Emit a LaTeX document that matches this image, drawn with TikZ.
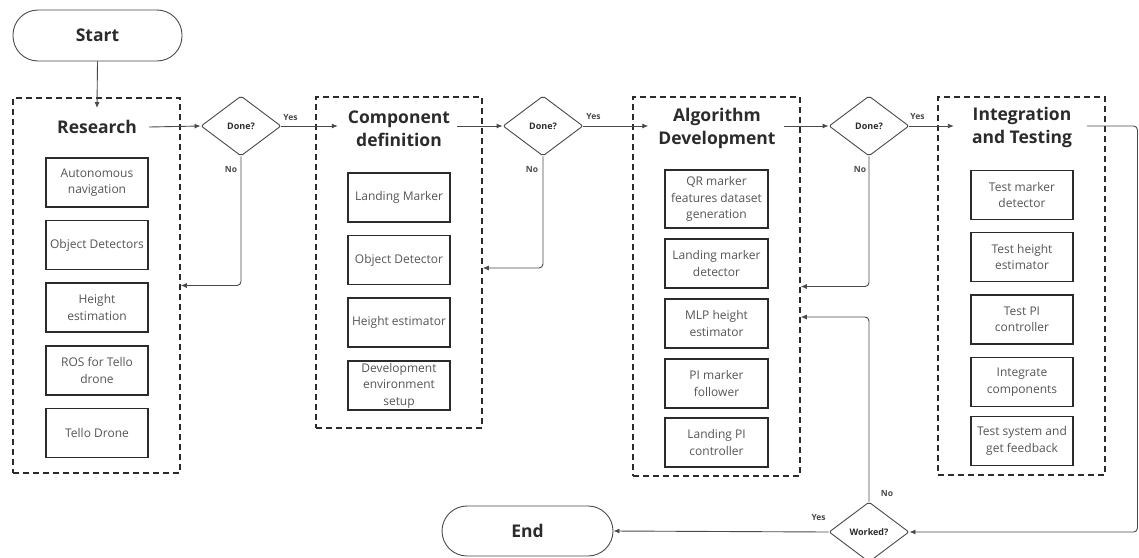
\documentclass[tikz,border=0pt]{standalone}
\usepackage{fontspec}
\setmainfont{Open Sans}
\usetikzlibrary{shapes.geometric,arrows.meta}
\definecolor{ink}{HTML}{2B2B2B}
\definecolor{wire}{HTML}{4A4A4A}
\definecolor{itemtext}{HTML}{555555}
\begin{document}
\begin{tikzpicture}[x=1pt,y=-1pt,
  terminal/.style={draw=wire, line width=0.9pt, rounded corners=25pt,
    minimum width=169pt, minimum height=51pt,
    font=\fontsize{17.5}{21}\selectfont\bfseries, text=ink},
  group/.style={draw=ink, line width=1.5pt, dash pattern=on 6pt off 4pt},
  title/.style={font=\fontsize{17.5}{23}\selectfont\bfseries, text=ink,
    align=center, inner sep=0pt},
  item/.style={draw=ink, line width=1.5pt, minimum width=102pt,
    minimum height=49pt, align=center, inner sep=1pt,
    font=\fontsize{12}{16.5}\selectfont, text=itemtext},
  decision/.style={diamond, draw=wire, line width=0.9pt, minimum width=80pt,
    minimum height=60pt, inner sep=0pt, rounded corners=2pt,
    font=\fontsize{9}{10}\selectfont\bfseries, text=ink},
  flow/.style={draw=wire, line width=0.9pt, rounded corners=4pt,
    -{Latex[length=6pt,width=5pt]}},
  lbl/.style={font=\fontsize{8.5}{10}\selectfont\bfseries, text=wire,
    inner sep=0pt}]
\useasboundingbox (0,0) rectangle (1139,557);

% terminals
\node[terminal] (start) at (97.5,35.5) {Start};
\node[terminal, minimum width=171pt, minimum height=50pt] (end) at (527.5,531) {End};

% phase frames
\node[group, minimum width=167pt, minimum height=375pt] (gR) at (96.5,285.5) {};
\node[group, minimum width=166pt, minimum height=331pt] (gC) at (399,262.5) {};
\node[group, minimum width=167pt, minimum height=379pt] (gA) at (716.5,286.5) {};
\node[group, minimum width=167pt, minimum height=378pt] (gI) at (1021.5,286) {};

% phase titles
\node[title] (tR) at (97,127) {Research};
\node[title] (tC) at (399,128.5) {Component\\definition};
\node[title] (tA) at (717,128.5) {Algorithm\\Development};
\node[title] (tI) at (1022,127.5) {Integration\\and Testing};

% research tasks
\node[item] (r1) at (97,182.5) {Autonomous\\navigation};
\node[item] (r2) at (97,245) {Object Detectors};
\node[item] (r3) at (97,307.5) {Height\\estimation};
\node[item] (r4) at (97,370.5) {ROS for Tello\\drone};
\node[item] (r5) at (97,433) {Tello Drone};

% component tasks
\node[item] (c1) at (399,197.5) {Landing Marker};
\node[item] (c2) at (399,260) {Object Detector};
\node[item] (c3) at (399,322.5) {Height estimator};
\node[item] (c4) at (399,385.5) {Development\\environment\\setup};

% algorithm tasks
\node[item, minimum width=103pt, minimum height=58pt] (a1) at (716.5,199) {QR marker\\features dataset\\generation};
\node[item, minimum width=103pt] (a2) at (716.5,263.5) {Landing marker\\detector};
\node[item, minimum width=103pt] (a3) at (716.5,323.5) {MLP height\\estimator};
\node[item, minimum width=103pt] (a4) at (716.5,383.5) {PI marker\\follower};
\node[item, minimum width=103pt] (a5) at (716.5,442.5) {Landing PI\\controller};

% integration tasks
\node[item] (i1) at (1022,195) {Test marker\\detector};
\node[item] (i2) at (1022,257) {Test height\\estimator};
\node[item] (i3) at (1022,319.5) {Test PI\\controller};
\node[item] (i4) at (1022,382) {Integrate\\components};
\node[item] (i5) at (1022,441) {Test system and\\get feedback};

% decisions
\node[decision] (d1) at (241,126) {Done?};
\node[decision] (d2) at (543,126) {Done?};
\node[decision] (d3) at (869,126) {Done?};
\node[decision] (worked) at (869,532) {Worked?};

% loop-back corner on the right edge
\coordinate (loop) at (1137.5,330);

% main flow
\draw[flow] (start.south) -- ([yshift=12pt]tR.north);
\draw[flow] ([xshift=12pt]tR.east) -- (d1.west);
\draw[flow] (d1.east) -- ([xshift=-10pt]d1.east -| tC.west);
\draw[flow] ([xshift=7pt]tC.east |- d2.west) -- (d2.west);
\draw[flow] (d2.east) -- ([xshift=-10pt]d2.east -| tA.west);
\draw[flow] ([xshift=8pt]tA.east |- d3.west) -- (d3.west);
\draw[flow] (d3.east) -- ([xshift=-18pt]d3.east -| tI.west);
\draw[flow] ([xshift=15pt]tI.east |- d3.east) -| (loop) |- (worked.east);
\draw[flow] (worked.west) -- (end.east);

% "No" branches
\draw[flow] (d1.south) |- (gR.east);
\draw[flow] (d2.south) |- ([yshift=-5.5pt]gC.east);
\draw[flow] (d3.south) |- (gA.east);
\draw[flow] (worked.north) |- ([yshift=-30.5pt]gA.east);

% branch labels
\node[lbl] (y1) at ([xshift=9pt,yshift=8pt]d1.east) {Yes};
\node[lbl] (n1) at ([xshift=-10pt,yshift=-13pt]d1.south) {No};
\node[lbl] (y2) at ([xshift=10pt,yshift=9pt]d2.east) {Yes};
\node[lbl] (n2) at ([xshift=-11pt,yshift=-13pt]d2.south) {No};
\node[lbl] (y3) at ([xshift=8pt,yshift=9pt]d3.east) {Yes};
\node[lbl] (n3) at ([xshift=-9pt,yshift=-13pt]d3.south) {No};
\node[lbl] (n4) at ([xshift=18pt,yshift=8pt]worked.north) {No};
\node[lbl] (y4) at ([xshift=-10pt,yshift=15pt]worked.west) {Yes};
\end{tikzpicture}
\end{document}
